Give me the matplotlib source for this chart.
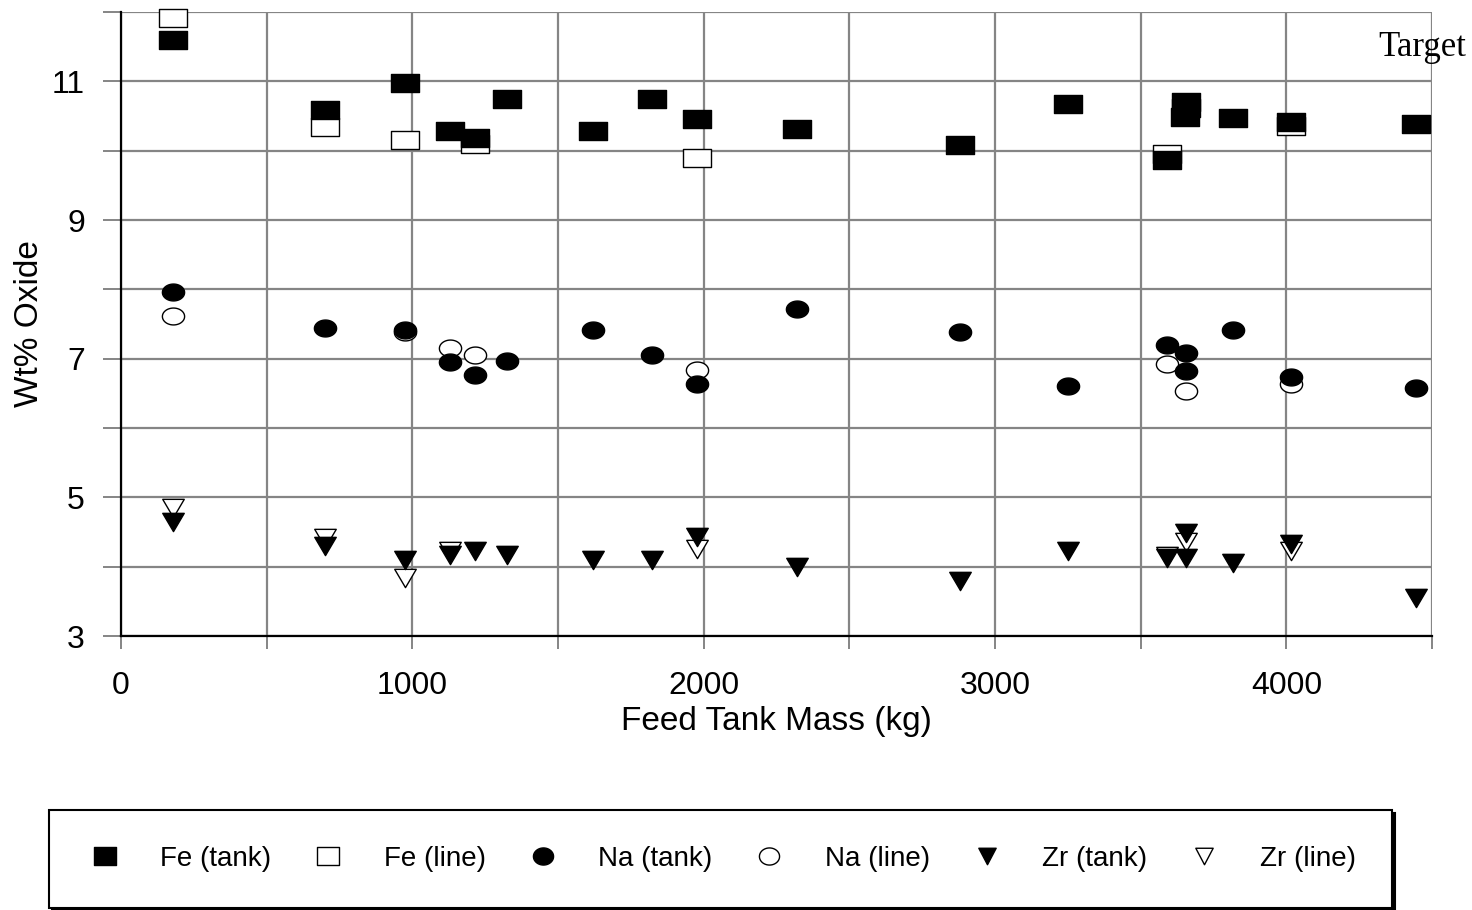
import numpy as np
import matplotlib
matplotlib.use("Agg")
import matplotlib.pyplot as plt
from matplotlib.path import Path
from matplotlib.lines import Line2D
from matplotlib.ticker import MultipleLocator

plt.rcParams["font.family"] = ["Liberation Sans", "DejaVu Sans"]

# feed tank mass (kg) and wt% oxide, tank vs. line samples
fe_tank_x = [178, 700, 975, 1129, 1215, 1325, 1620, 1823, 1977, 2321, 2880, 3251, 3591, 3656, 3653, 3817, 4016, 4445]
fe_tank_y = [11.59, 10.58, 10.97, 10.28, 10.18, 10.74, 10.28, 10.75, 10.45, 10.31, 10.08, 10.68, 9.87, 10.70, 10.48, 10.47, 10.41, 10.38]
fe_line_x = [178, 700, 975, 1215, 1977, 3591, 3656, 4016]
fe_line_y = [11.91, 10.34, 10.15, 10.10, 9.90, 9.95, 10.61, 10.35]

na_tank_x = [178, 700, 975, 1129, 1215, 1325, 1620, 1823, 1977, 2321, 2880, 3251, 3591, 3656, 3656, 3817, 4016, 4445]
na_tank_y = [7.96, 7.44, 7.42, 6.95, 6.76, 6.97, 7.41, 7.05, 6.64, 7.72, 7.38, 6.61, 7.19, 7.08, 6.82, 7.42, 6.73, 6.58]
na_line_x = [178, 975, 1129, 1215, 1977, 3591, 3656, 4016]
na_line_y = [7.62, 7.38, 7.15, 7.06, 6.83, 6.92, 6.53, 6.64]

zr_tank_x = [178, 700, 975, 1129, 1215, 1325, 1620, 1823, 1977, 2321, 2880, 3251, 3591, 3656, 3656, 3817, 4016, 4445]
zr_tank_y = [4.65, 4.30, 4.10, 4.17, 4.23, 4.17, 4.09, 4.09, 4.43, 4.00, 3.79, 4.22, 4.13, 4.49, 4.12, 4.06, 4.32, 3.55]
zr_line_x = [178, 700, 975, 1129, 1977, 3591, 3656, 4016]
zr_line_y = [4.84, 4.42, 3.84, 4.22, 4.26, 4.15, 4.36, 4.23]

labels = ["Fe (tank)", "Fe (line)", "Na (tank)", "Na (line)", "Zr (tank)", "Zr (line)"]
y_major = [3, 5, 7, 9, 11]


def rect(h):
    return Path([(-1, -h), (1, -h), (1, h), (-1, h), (-1, -h)], closed=True)


def ellipse(h):
    t = np.linspace(0, 2 * np.pi, 60)
    return Path(np.column_stack([np.cos(t), h * np.sin(t)]), closed=True)


def tri_down(h):
    return Path([(-1, h), (1, h), (0, -h), (-1, h)], closed=True)


sq_m, el_m, tr_m = rect(0.66), ellipse(0.76), tri_down(0.85)

fig = plt.figure(figsize=(14.72, 9.10), dpi=100)
ax = fig.add_axes([121 / 1472, 1 - 636 / 910, 1311 / 1472, 624 / 910])

series = [
    (fe_line_x, fe_line_y, sq_m, 19.5, "white"),
    (fe_tank_x, fe_tank_y, sq_m, 19.5, "black"),
    (na_line_x, na_line_y, el_m, 16.0, "white"),
    (na_tank_x, na_tank_y, el_m, 16.0, "black"),
    (zr_line_x, zr_line_y, tr_m, 15.5, "white"),
    (zr_tank_x, zr_tank_y, tr_m, 15.5, "black"),
]
for i, (xs, ys, m, ms, fc) in enumerate(series):
    ax.plot(xs, ys, linestyle="none", marker=m, markersize=ms,
            markerfacecolor=fc, markeredgecolor="black", markeredgewidth=1.0,
            zorder=3 + i, clip_on=False)

ax.set_xlim(0, 4500)
ax.set_ylim(3, 12)
ax.xaxis.set_major_locator(MultipleLocator(1000))
ax.xaxis.set_minor_locator(MultipleLocator(500))
ax.set_yticks(y_major)
ax.yaxis.set_minor_locator(MultipleLocator(1))
ax.grid(which="both", color="#858585", linewidth=1.6, zorder=1)
ax.set_axisbelow(True)

ax.tick_params(axis="x", which="both", direction="out", length=9, width=1.4,
               color="#858585", labelsize=23, pad=16)
ax.tick_params(axis="y", which="both", direction="out", length=13, width=1.4,
               color="#858585", labelsize=23, pad=13)

for s in ["top", "right"]:
    ax.spines[s].set_visible(False)
for s in ["left", "bottom"]:
    ax.spines[s].set_color("black")
    ax.spines[s].set_linewidth(1.6)
    ax.spines[s].set_zorder(2)

ax.set_xlabel("Feed Tank Mass (kg)", fontsize=24)
ax.set_ylabel("Wt% Oxide", fontsize=24)
ax.xaxis.set_label_coords(0.5, -0.112)
ax.yaxis.set_label_coords(-0.058, 0.5)

fig.text(1466 / 1472, 1 - 48 / 910, "Target", ha="right", va="center",
         family="Liberation Serif", fontsize=25)

# legend handles with their own (slightly smaller) marker shapes
leg_specs = [
    (rect(0.8), 15.5, "black"), (rect(0.8), 15.5, "white"),
    (ellipse(0.85), 14.5, "black"), (ellipse(0.85), 14.5, "white"),
    (tri_down(0.95), 12.5, "black"), (tri_down(0.95), 12.5, "white"),
]
handles = [Line2D([], [], linestyle="none", marker=m, markersize=ms,
                  markerfacecolor=fc, markeredgecolor="black", markeredgewidth=1.0)
           for m, ms, fc in leg_specs]
leg = fig.legend(handles, labels, loc="center", ncol=6, mode="expand",
                 bbox_to_anchor=(49 / 1472, 1 - 908 / 910, 1343 / 1472, 98 / 910),
                 fontsize=20, frameon=True, fancybox=False, edgecolor="black",
                 shadow={"color": "black", "alpha": 1.0}, borderaxespad=0,
                 handlelength=1.4, handletextpad=1.3, borderpad=1.3)
leg.get_frame().set_linewidth(1.5)

fig.savefig("out.png", dpi=100)
